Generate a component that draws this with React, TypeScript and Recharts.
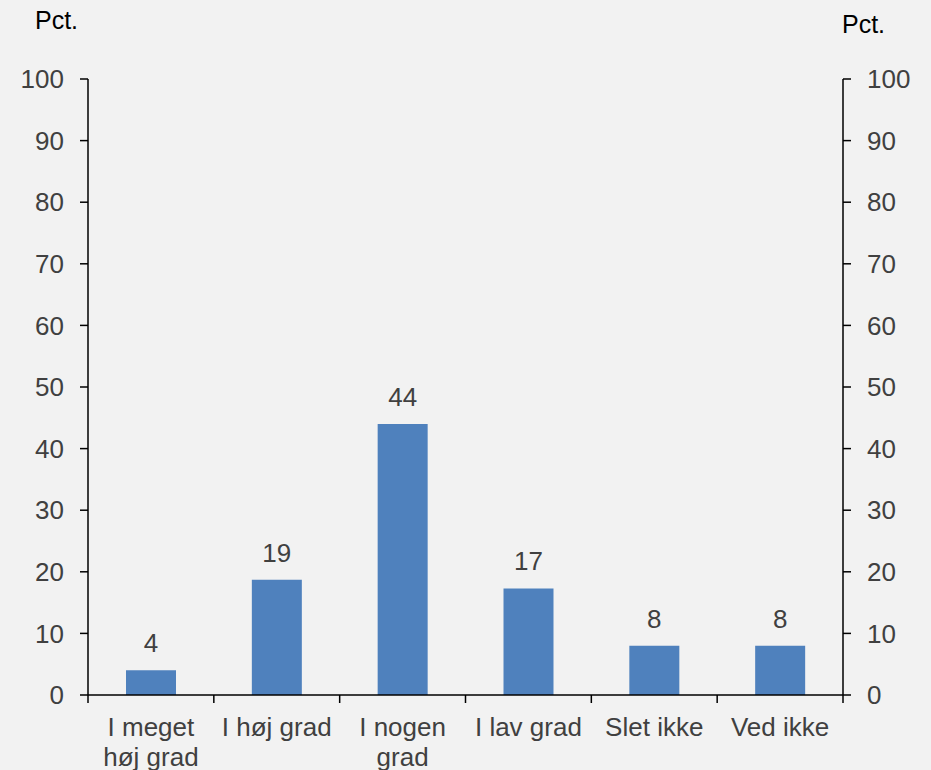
import { ComposedChart, Bar, Line, XAxis, YAxis, LabelList } from "recharts";

const categories = [
  "I meget\nhøj grad",
  "I høj grad",
  "I nogen\ngrad",
  "I lav grad",
  "Slet ikke",
  "Ved ikke",
];
const values = [4, 18.7, 44, 17.3, 8, 8];
const yTicks = [0, 10, 20, 30, 40, 50, 60, 70, 80, 90, 100];

const data = categories.map((name, i) => ({ name, value: values[i] }));

const FONT = "'Liberation Sans', Arial, sans-serif";
const GREY = "#404040";

// category labels, with tick marks drawn at the band edges instead of the centres
const XTick = (props: any) => {
  const { x, y, payload, width, visibleTicksCount, index } = props;
  const lines = String(payload.value).split("\n");
  const half = payload.offset || width / visibleTicksCount / 2;
  const last = index === visibleTicksCount - 1;
  return (
    <g>
      <line x1={x - half} x2={x - half} y1={y - 8} y2={y} stroke="#000" strokeWidth={1.5} />
      {last && <line x1={x + half} x2={x + half} y1={y - 8} y2={y} stroke="#000" strokeWidth={1.5} />}
      <text x={x} y={y} textAnchor="middle" fill={GREY} fontSize={26} fontFamily={FONT}>
        {lines.map((l, i) => (
          <tspan key={i} x={x} dy={i === 0 ? 33 : 30}>
            {l}
          </tspan>
        ))}
      </text>
    </g>
  );
};

const axisStyle = { stroke: "#000", strokeWidth: 1.5 };

const App = () => {
  return (
    <div
      style={{
        position: "absolute",
        left: 0,
        top: 0,
        width: 931,
        height: 770,
        background: "#F2F2F2",
        fontFamily: FONT,
      }}
    >
      <div style={{ position: "absolute", left: 35, top: 6, fontSize: 25, color: "#000" }}>Pct.</div>
      <div style={{ position: "absolute", left: 842, top: 10, fontSize: 25, color: "#000" }}>Pct.</div>
      <ComposedChart
        width={931}
        height={770}
        data={data}
        margin={{ top: 79, right: 8, bottom: 0, left: 8 }}
        barSize={50}
      >
        <XAxis
          dataKey="name"
          height={75}
          axisLine={axisStyle}
          tickLine={false}
          tickSize={8}
          tickMargin={0}
          interval={0}
          tick={<XTick />}
        />
        <YAxis
          yAxisId="left"
          orientation="left"
          width={80}
          domain={[0, 100]}
          ticks={yTicks}
          interval={0}
          axisLine={axisStyle}
          tickLine={axisStyle}
          tickSize={8}
          tickMargin={16}
          tick={{ fill: GREY, fontSize: 26, fontFamily: FONT }}
        />
        <YAxis
          yAxisId="right"
          orientation="right"
          width={80}
          domain={[0, 100]}
          ticks={yTicks}
          interval={0}
          axisLine={axisStyle}
          tickLine={axisStyle}
          tickSize={8}
          tickMargin={16}
          tick={{ fill: GREY, fontSize: 26, fontFamily: FONT }}
        />
        <Bar yAxisId="left" dataKey="value" fill="#4F81BD" isAnimationActive={false}>
          <LabelList
            dataKey="value"
            position="top"
            offset={18}
            formatter={(v: any) => Math.round(Number(v))}
            fill={GREY}
            fontSize={26}
            fontFamily={FONT}
          />
        </Bar>
        <Line
          yAxisId="right"
          dataKey="value"
          stroke="none"
          dot={false}
          activeDot={false}
          isAnimationActive={false}
        />
      </ComposedChart>
    </div>
  );
};

export default App;
